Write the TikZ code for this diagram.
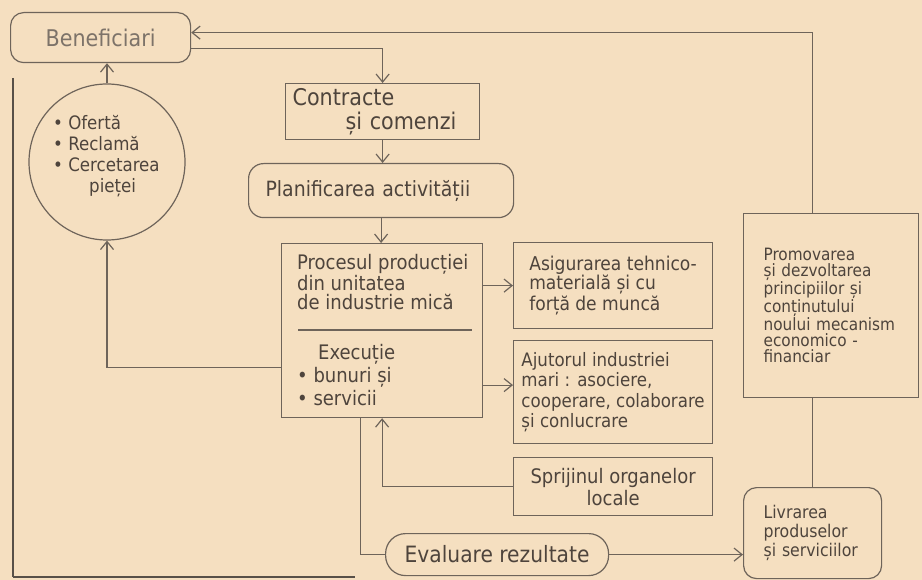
\documentclass[tikz,border=0pt]{standalone}
\usepackage{fontspec}
\setmainfont{DejaVu Sans Condensed}
\usetikzlibrary{arrows.meta}
\definecolor{paper}{RGB}{245,223,192}
\definecolor{ink}{RGB}{110,100,90}
\definecolor{txt}{RGB}{78,68,60}
\definecolor{pale}{RGB}{125,115,105}
\tikzset{
 box/.style={draw=ink, line width=1.2pt, anchor=north west, inner ysep=0pt, align=left, text=txt, font=\fontsize{20}{19}\selectfont},
 rbox/.style={box, rounded corners=13pt},
 conn/.style={draw=ink, line width=1.2pt},
 arr/.style={conn, -{Straight Barb[length=8pt,width=13pt,line width=1.2pt]}},
 lbl/.style={anchor=north west, inner sep=0pt, align=left, text=txt, font=\fontsize{20}{19}\selectfont},
}
\begin{document}
\begin{tikzpicture}[x=1pt,y=-1pt]
\fill[paper] (0,0) rectangle (922,580);
\useasboundingbox (0,0) rectangle (922,580);

% nodes
\node[rbox, minimum width=180pt, minimum height=50pt, align=center, text=pale, inner xsep=0pt, font=\fontsize{23}{24}\selectfont] (ben) at (10,12) {Beneficiari};
\node[box, minimum width=194pt, minimum height=56pt, inner xsep=7pt, text width=180pt, font=\fontsize{23}{24}\selectfont] (con) at (285,83) {Contracte\\\hspace*{53pt}și comenzi};
\node[rbox, minimum width=265pt, minimum height=54pt, inner xsep=17pt, text width=231pt, rounded corners=15pt, font=\fontsize{21}{22}\selectfont] (plan) at (248,163) {Planificarea activității};
\node[box, minimum width=201pt, minimum height=174pt] (proc) at (281,243) {};
\node[lbl] (procA) at (297,254) {Procesul producției\\din unitatea\\de industrie mică};
\node[lbl, font=\fontsize{20}{23}\selectfont] (procB) at (297,344) {\hspace*{21pt}Execuție\\• bunuri și\\• servicii};
\node[box, minimum width=199pt, minimum height=86pt, inner xsep=0pt, font=\fontsize{19}{19}\selectfont] (asig) at (513,242) {Asigurarea tehnico-\\materială și cu\\forță de muncă};
\node[box, minimum width=199pt, minimum height=103pt, inner xsep=0pt, font=\fontsize{18.5}{20.5}\selectfont] (ajut) at (513,340) {Ajutorul industriei\\mari : asociere,\\cooperare, colaborare\\și conlucrare};
\node[box, minimum width=199pt, minimum height=58pt, inner xsep=0pt, align=center, font=\fontsize{20}{22}\selectfont] (spri) at (513,457) {Sprijinul organelor\\locale};
\node[box, minimum width=175pt, minimum height=184pt, inner xsep=20pt, text width=135pt, font=\fontsize{17}{15.8}\selectfont] (prom) at (743,213) {Promovarea\\și dezvoltarea\\principiilor și\\conținutului\\noului mecanism\\economico -\\financiar};
\node[rbox, minimum width=138pt, minimum height=91pt, inner xsep=20pt, text width=98pt, font=\fontsize{17.5}{19}\selectfont] (livr) at (743,487) {Livrarea\\produselor\\și serviciilor};
\node[rbox, minimum width=223pt, minimum height=42pt, rounded corners=20pt, align=center, inner xsep=0pt, font=\fontsize{22.5}{24}\selectfont] (eval) at (385,533) {Evaluare rezultate};
\node[draw=ink, line width=1.2pt, circle, minimum size=156pt, inner sep=0pt] (circ) at (107,162) {};
\node[lbl, font=\fontsize{18.5}{21}\selectfont] (circT) at (53,115) {• Ofertă\\• Reclamă\\• Cercetarea\\\hspace*{36pt}pieței};

\coordinate (L1) at (13,78);
\coordinate (L3) at (355,577);

% divider inside the production box
\draw[conn] (298,330) -- (472,330);

% connectors
\draw[arr] (livr.north |- prom.north) |- ([yshift=5pt]ben.east);
\draw[arr] ([yshift=-11pt]ben.east) -| (con.north);
\draw[arr] (con.south) -- (con.south |- plan.north);
\draw[arr] (plan.south) -- (plan.south |- proc.north);
\draw[arr] (proc.east |- asig.west) -- (asig.west);
\draw[arr] ([yshift=7pt]ajut.west -| proc.east) -- ([yshift=7pt]ajut.west);
\draw[arr] (spri.west) -| (proc.south);
\draw[conn] (eval.west) -| ([xshift=-21.5pt]proc.south);
\draw[arr] (eval.east) -- (eval.east -| livr.west);
\draw[conn] (livr.north |- prom.south) -- (livr.north);
\draw[arr] ([yshift=-37pt]proc.west) -| (circ.south);
\draw[arr] (circ.north) -- (circ.north |- ben.south);
\draw[draw=ink!80!black, line width=2pt] (L1) -- (L1 |- L3);
\draw[draw=ink!80!black, line width=2.8pt] (L1 |- L3) -- (L3);
\end{tikzpicture}
\end{document}
